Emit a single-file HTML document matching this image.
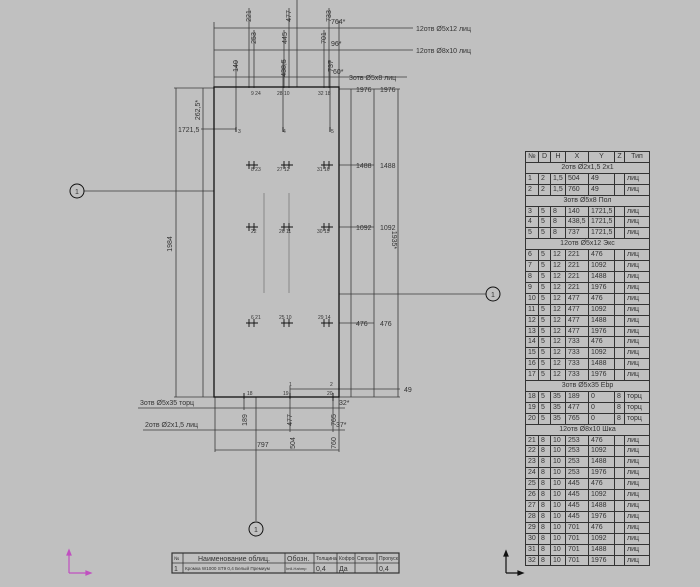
<!DOCTYPE html>
<html><head><meta charset="utf-8"><style>
html,body{margin:0;padding:0;background:#c0c0c0;}
body{position:relative;width:700px;height:587px;overflow:hidden;}
svg{display:block;font-family:"Liberation Sans",sans-serif;}
.t{font-size:7px;fill:#333;}
.s{font-size:5px;fill:#333;}
table.h{position:absolute;left:525px;top:151px;border-collapse:collapse;font-family:"Liberation Sans",sans-serif;font-size:7px;color:#333;table-layout:fixed;width:124px;}
table.h td{border:0.8px solid #333;height:9.9px;padding:0 0 0 2px;line-height:9.9px;white-space:nowrap;overflow:hidden;}
table.h td.c{text-align:center;padding:0;}
table.h tr:first-child td{text-align:center;padding:0;}
</style></head><body>
<svg width="700" height="587" viewBox="0 0 700 587" xmlns="http://www.w3.org/2000/svg">
<rect width="700" height="587" fill="#c0c0c0"/>
<g stroke="#3a3a3a" stroke-width="0.8" fill="none">
<line x1="214" y1="28" x2="413" y2="28"/>
<line x1="214" y1="50" x2="413" y2="50"/>
<line x1="214" y1="77" x2="407" y2="77"/>
<line x1="214" y1="22" x2="214" y2="87"/>
<line x1="249" y1="8" x2="249" y2="88"/>
<line x1="254" y1="30" x2="254" y2="88"/>
<line x1="289" y1="8" x2="289" y2="88"/>
<line x1="284" y1="30" x2="284" y2="88"/>
<line x1="283" y1="60" x2="283" y2="130"/>
<line x1="236" y1="60" x2="236" y2="130"/>
<line x1="329" y1="8" x2="329" y2="88"/>
<line x1="324" y1="30" x2="324" y2="88"/>
<line x1="330" y1="60" x2="330" y2="130"/>
<line x1="339" y1="20" x2="339" y2="87"/>
<line x1="174" y1="88" x2="214" y2="88"/>
<line x1="176" y1="88" x2="176" y2="397"/>
<line x1="203" y1="88" x2="203" y2="397"/>
<line x1="174" y1="397" x2="214" y2="397"/>
<line x1="201" y1="129" x2="236" y2="129"/>
<line x1="84" y1="191" x2="214" y2="191"/>
<line x1="339" y1="89" x2="400" y2="89"/>
<line x1="339" y1="165" x2="374" y2="165"/>
<line x1="339" y1="227" x2="374" y2="227"/>
<line x1="339" y1="323" x2="374" y2="323"/>
<line x1="351" y1="89" x2="351" y2="397"/>
<line x1="374" y1="89" x2="374" y2="397"/>
<line x1="398" y1="89" x2="398" y2="397"/>
<line x1="339" y1="294" x2="486" y2="294"/>
<line x1="290" y1="389" x2="400" y2="389"/>
<line x1="290" y1="386" x2="290" y2="397"/>
<line x1="339" y1="397" x2="400" y2="397"/>
<line x1="138" y1="408" x2="345" y2="408"/>
<line x1="143" y1="430" x2="345" y2="430"/>
<line x1="215" y1="450" x2="339" y2="450"/>
<line x1="215" y1="397" x2="215" y2="452"/>
<line x1="339" y1="397" x2="339" y2="452"/>
<line x1="244" y1="397" x2="244" y2="410"/>
<line x1="290" y1="397" x2="290" y2="432"/>
<line x1="333" y1="397" x2="333" y2="432"/>
<line x1="256" y1="397" x2="256" y2="521"/>
<line x1="297" y1="0" x2="297" y2="87"/>
</g>
<g stroke="#7a7a7a" stroke-width="0.8">
<line x1="264" y1="193" x2="264" y2="293"/>
<line x1="289" y1="193" x2="289" y2="293"/>
</g>
<rect x="214" y="87" width="125" height="310" fill="none" stroke="#111" stroke-width="1.3"/>
<g fill="none" stroke="#111" stroke-width="1">
<circle cx="77" cy="191" r="7"/><circle cx="493" cy="294" r="7"/><circle cx="256" cy="529" r="7"/>
</g>
<g class="t" text-anchor="middle">
<text x="77" y="194">1</text><text x="493" y="297">1</text><text x="256" y="532">1</text>
</g>
<g stroke="#111" stroke-width="0.9">
<path d="M246 165h12M249 161v8M254 161v8 M281 165h12M284 161v8M289 161v8 M321 165h12M324 161v8M329 161v8"/>
<path d="M246 227h12M249 223v8M254 223v8 M281 227h12M284 223v8M289 223v8 M321 227h12M324 223v8M329 223v8"/>
<path d="M246 323h12M249 319v8M254 319v8 M281 323h12M284 319v8M289 319v8 M321 323h12M324 319v8M329 319v8"/>
<path d="M236 127v5M283 127v5M330 127v5 M244 393v6M290 393v6M333 393v8"/>
</g>
<g class="t">
<text x="416" y="31">12отв Ø5х12 лиц</text>
<text x="416" y="53">12отв Ø8х10 лиц</text>
<text x="349" y="80">3отв Ø5х8 лиц</text>
<text x="331" y="24">764*</text><text x="331" y="46">96*</text><text x="333" y="74">60*</text>
<text x="178" y="132">1721,5</text>
<text x="356" y="92">1976</text><text x="380" y="92">1976</text>
<text x="356" y="168">1488</text><text x="380" y="168">1488</text>
<text x="356" y="230">1092</text><text x="380" y="230">1092</text>
<text x="356" y="326">476</text><text x="380" y="326">476</text>
<text x="404" y="392">49</text>
<text x="140" y="405">3отв Ø5х35 торц</text>
<text x="145" y="427">2отв Ø2х1,5 лиц</text>
<text x="257" y="447">797</text>
<text x="339" y="405">32*</text><text x="336" y="427">37*</text>
</g>
<g class="t" text-anchor="middle">
<text transform="translate(251,16) rotate(-90)">221</text>
<text transform="translate(291,16) rotate(-90)">477</text>
<text transform="translate(331,16) rotate(-90)">733</text>
<text transform="translate(256,38) rotate(-90)">253</text>
<text transform="translate(287,38) rotate(-90)">445</text>
<text transform="translate(326,38) rotate(-90)">701</text>
<text transform="translate(238,66) rotate(-90)">140</text>
<text transform="translate(286,68) rotate(-90)">438,5</text>
<text transform="translate(333,66) rotate(-90)">737</text>
<text transform="translate(200,110) rotate(-90)">262,5*</text>
<text transform="translate(172,244) rotate(-90)">1984</text>
<text transform="translate(392,240) rotate(90)">1935*</text>
<text transform="translate(247,420) rotate(-90)">189</text>
<text transform="translate(292,420) rotate(-90)">477</text>
<text transform="translate(295,443) rotate(-90)">504</text>
<text transform="translate(336,420) rotate(-90)">765</text>
<text transform="translate(336,443) rotate(-90)">760</text>
</g>
<g class="s">
<text x="251" y="95">9 24</text><text x="277" y="95">28 10</text><text x="318" y="95">32 18</text>
<text x="251" y="171">8 23</text><text x="277" y="171">27 12</text><text x="317" y="171">31 16</text>
<text x="251" y="233">22</text><text x="279" y="233">26 11</text><text x="317" y="233">30 15</text>
<text x="251" y="319">6 21</text><text x="279" y="319">25 10</text><text x="318" y="319">29 14</text>
<text x="247" y="395">18</text><text x="283" y="395">19</text><text x="289" y="386">1</text>
<text x="330" y="386">2</text><text x="327" y="395">20</text>
<text x="238" y="133">3</text><text x="283" y="133">4</text><text x="331" y="133">5</text>
</g>
<g stroke="#c050c0" stroke-width="1.2" fill="#c050c0">
<path d="M69 573V551M69 573H90" fill="none"/>
<path d="M67 555l2-5 2 5zM86 571l5 2-5 2z"/>
</g>
<g stroke="#111" stroke-width="1.2" fill="#111">
<path d="M506 573V552M506 573H522" fill="none"/>
<path d="M504 556l2-5 2 5zM518 571l5 2-5 2z"/>
</g>
<g stroke="#333" stroke-width="0.8" fill="none">
<rect x="172" y="553" width="227" height="20" stroke-width="1.2"/>
<line x1="172" y1="563" x2="399" y2="563"/>
<line x1="183" y1="553" x2="183" y2="573"/><line x1="285" y1="553" x2="285" y2="573"/>
<line x1="314" y1="553" x2="314" y2="573"/><line x1="337" y1="553" x2="337" y2="573"/>
<line x1="355" y1="553" x2="355" y2="573"/><line x1="377" y1="553" x2="377" y2="573"/>
</g>
<g class="t">
<text x="174" y="560" font-size="5">№</text>
<text x="198" y="561">Наименование облиц.</text>
<text x="287" y="561">Обозн.</text>
<text x="316" y="560" font-size="5">Толщина</text>
<text x="339" y="560" font-size="5">Кофро</text>
<text x="357" y="560" font-size="5">Свпраз</text>
<text x="379" y="560" font-size="5">Пропуск</text>
<text x="174" y="571">1</text>
<text x="185" y="570" font-size="4.6">Кромка W1000 ST9 0,4 Белый Премиум</text>
<text x="286" y="570" font-size="4">Imll-Hahmp</text>
<text x="316" y="571">0,4</text><text x="339" y="571">Да</text><text x="379" y="571">0,4</text>
</g>
</svg>
<table class="h">
<colgroup><col style="width:13px"><col style="width:12px"><col style="width:15px"><col style="width:23px"><col style="width:26px"><col style="width:10px"><col style="width:25px"></colgroup>
<tr><td>№</td><td>D</td><td>H</td><td>X</td><td>Y</td><td>Z</td><td>Тип</td></tr>
<tr><td colspan="7" class="c">2отв  Ø2х1,5  2х1</td></tr>
<tr><td>1</td><td>2</td><td>1,5</td><td>504</td><td>49</td><td></td><td>лиц</td></tr>
<tr><td>2</td><td>2</td><td>1,5</td><td>760</td><td>49</td><td></td><td>лиц</td></tr>
<tr><td colspan="7" class="c">3отв  Ø5х8  Пол</td></tr>
<tr><td>3</td><td>5</td><td>8</td><td>140</td><td>1721,5</td><td></td><td>лиц</td></tr>
<tr><td>4</td><td>5</td><td>8</td><td>438,5</td><td>1721,5</td><td></td><td>лиц</td></tr>
<tr><td>5</td><td>5</td><td>8</td><td>737</td><td>1721,5</td><td></td><td>лиц</td></tr>
<tr><td colspan="7" class="c">12отв  Ø5х12  Экс</td></tr>
<tr><td>6</td><td>5</td><td>12</td><td>221</td><td>476</td><td></td><td>лиц</td></tr>
<tr><td>7</td><td>5</td><td>12</td><td>221</td><td>1092</td><td></td><td>лиц</td></tr>
<tr><td>8</td><td>5</td><td>12</td><td>221</td><td>1488</td><td></td><td>лиц</td></tr>
<tr><td>9</td><td>5</td><td>12</td><td>221</td><td>1976</td><td></td><td>лиц</td></tr>
<tr><td>10</td><td>5</td><td>12</td><td>477</td><td>476</td><td></td><td>лиц</td></tr>
<tr><td>11</td><td>5</td><td>12</td><td>477</td><td>1092</td><td></td><td>лиц</td></tr>
<tr><td>12</td><td>5</td><td>12</td><td>477</td><td>1488</td><td></td><td>лиц</td></tr>
<tr><td>13</td><td>5</td><td>12</td><td>477</td><td>1976</td><td></td><td>лиц</td></tr>
<tr><td>14</td><td>5</td><td>12</td><td>733</td><td>476</td><td></td><td>лиц</td></tr>
<tr><td>15</td><td>5</td><td>12</td><td>733</td><td>1092</td><td></td><td>лиц</td></tr>
<tr><td>16</td><td>5</td><td>12</td><td>733</td><td>1488</td><td></td><td>лиц</td></tr>
<tr><td>17</td><td>5</td><td>12</td><td>733</td><td>1976</td><td></td><td>лиц</td></tr>
<tr><td colspan="7" class="c">3отв  Ø5х35  Ebр</td></tr>
<tr><td>18</td><td>5</td><td>35</td><td>189</td><td>0</td><td>8</td><td>торц</td></tr>
<tr><td>19</td><td>5</td><td>35</td><td>477</td><td>0</td><td>8</td><td>торц</td></tr>
<tr><td>20</td><td>5</td><td>35</td><td>765</td><td>0</td><td>8</td><td>торц</td></tr>
<tr><td colspan="7" class="c">12отв  Ø8х10  Шка</td></tr>
<tr><td>21</td><td>8</td><td>10</td><td>253</td><td>476</td><td></td><td>лиц</td></tr>
<tr><td>22</td><td>8</td><td>10</td><td>253</td><td>1092</td><td></td><td>лиц</td></tr>
<tr><td>23</td><td>8</td><td>10</td><td>253</td><td>1488</td><td></td><td>лиц</td></tr>
<tr><td>24</td><td>8</td><td>10</td><td>253</td><td>1976</td><td></td><td>лиц</td></tr>
<tr><td>25</td><td>8</td><td>10</td><td>445</td><td>476</td><td></td><td>лиц</td></tr>
<tr><td>26</td><td>8</td><td>10</td><td>445</td><td>1092</td><td></td><td>лиц</td></tr>
<tr><td>27</td><td>8</td><td>10</td><td>445</td><td>1488</td><td></td><td>лиц</td></tr>
<tr><td>28</td><td>8</td><td>10</td><td>445</td><td>1976</td><td></td><td>лиц</td></tr>
<tr><td>29</td><td>8</td><td>10</td><td>701</td><td>476</td><td></td><td>лиц</td></tr>
<tr><td>30</td><td>8</td><td>10</td><td>701</td><td>1092</td><td></td><td>лиц</td></tr>
<tr><td>31</td><td>8</td><td>10</td><td>701</td><td>1488</td><td></td><td>лиц</td></tr>
<tr><td>32</td><td>8</td><td>10</td><td>701</td><td>1976</td><td></td><td>лиц</td></tr>
</table>
</body></html>
